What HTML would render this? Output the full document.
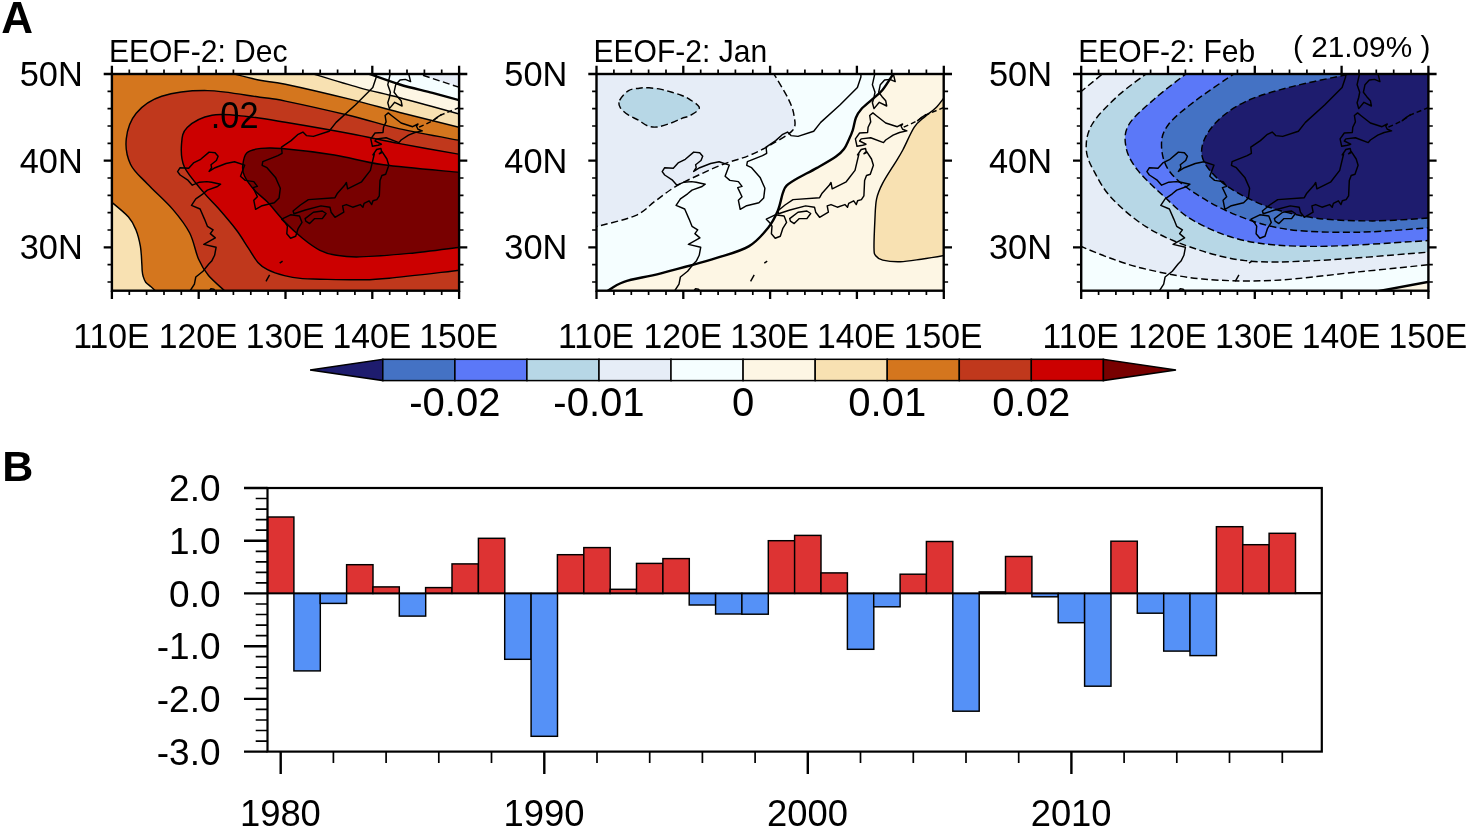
<!DOCTYPE html><html><head><meta charset="utf-8"><style>html,body{margin:0;padding:0;background:#fff;width:1468px;height:829px;overflow:hidden}svg{display:block;will-change:transform}text{font-family:"Liberation Sans", sans-serif;fill:#000}</style></head><body>
<svg width="1468" height="829" viewBox="0 0 1468 829">
<defs>
<clipPath id="cp0"><rect x="111.9" y="74" width="347.2" height="216.7"/></clipPath>
<clipPath id="cp1"><rect x="596.5" y="74" width="347.2" height="216.7"/></clipPath>
<clipPath id="cp2"><rect x="1081.2" y="74" width="347.2" height="216.7"/></clipPath>
</defs>
<rect width="1468" height="829" fill="#fff"/>
<text x="1.2" y="32.6" font-size="44" font-weight="bold">A</text>
<g clip-path="url(#cp0)">
<rect x="111.9" y="74" width="347.2" height="216.7" fill="#d4761e"/><path d="M226.6 72.2 C232.2 73.5 250.2 78.3 260 80.3 C269.8 82.3 270.3 81 285.4 84.2 C300.5 87.4 331.7 94.7 350.8 99.4 C369.9 104.1 381.6 107.8 399.8 112.5 C418 117.2 450 125 460 127.5 L460 72Z" fill="#f8e1b2"/><path d="M307 72 C315.7 74.6 343.5 83.3 359 87.6 C374.5 91.9 383 93.3 399.8 97.8 C416.6 102.2 450 111.5 460 114.3 L460 72Z" fill="#fdf6e4"/><path d="M364 72 C370 74.1 388.4 81 399.8 84.5 C411.2 88 422.5 90.2 432.5 92.9 C442.5 95.6 455.4 99.2 460 100.4 L460 72Z" fill="#f5feff"/><path d="M413 72 L460 87.6 L460 72Z" fill="#e6edf7"/><path d="M110 200.8 C113.1 203.5 124.2 212.1 128.5 217 C132.8 221.9 134 225.1 136 230 C138 234.9 139.4 240.8 140.4 246.4 C141.4 252 141.5 259.3 141.8 263.4 C142.1 267.5 142 268.8 142.2 271 C142.4 273.2 142.6 274.6 143.2 276.5 C143.8 278.4 144.4 280.5 145.7 282.2 C147 283.9 149.2 285.2 151 286.8 C152.8 288.4 155.6 291.1 156.5 292 L110 292Z" fill="#f8e1b2"/><path d="M460 140.5 C450 138.6 418 133 399.8 128.9 C381.6 124.8 369.9 120.4 350.8 115.8 C331.7 111.2 300.5 104.2 285.4 101.1 C270.3 98 273 99 260 97.2 C247 95.5 223.8 90.8 207.4 90.6 C191 90.4 173.6 92.4 161.7 96.2 C149.8 100 142.1 106.1 136.2 113.2 C130.3 120.3 127.2 130.2 126.3 138.7 C125.3 147.2 127 156.6 130.5 164.2 C134 171.8 140.4 176.4 147.5 184 C154.6 191.6 166 201.4 173 209.6 C180 217.8 185.4 224.8 189.7 233 C193.9 241.2 195.4 251.9 198.5 259 C201.6 266.1 203.9 270 208.5 275.5 C213.1 281 223.1 289.2 226 292 L460 292Z" fill="#c0381c"/><path d="M460 154.4 C450 152.6 418 147 399.8 143.6 C381.6 140.2 369.9 137.4 350.8 133.8 C331.7 130.2 302.8 125.2 285.4 122.3 C268 119.4 258.9 117.7 246.7 116.5 C234.5 115.3 221.9 113.4 212 115.2 C202.1 117 192.3 122.5 187.2 127.4 C182.1 132.3 182 137.8 181.5 144.4 C181 151 180.7 159 184.4 167 C188.1 175 198 185.6 203.6 192.4 C209.2 199.2 212.7 201.9 218.1 208.1 C223.5 214.3 231.2 223.2 236.2 229.8 C241.2 236.4 244.6 242.5 248.2 247.9 C251.8 253.3 254.7 258.8 257.9 262.4 C261.1 266 263.1 267.4 267.5 269.6 C271.9 271.8 278.6 274.1 284.4 275.6 C290.2 277.1 296.6 278 302.5 278.6 C308.4 279.2 310.4 279 320 279.2 C329.6 279.4 348.5 280 360 279.8 C371.5 279.6 372.5 279.8 389.2 278.2 C405.9 276.6 448.2 271.5 460 270.2Z" fill="#cc0000"/><path d="M460 172.4 C447.2 171.1 404.4 167.7 383.5 164.8 C362.6 161.9 351.3 157.7 334.4 155 C317.5 152.3 294.4 149.6 282.1 148.5 C269.9 147.4 266.8 147.7 260.9 148.4 C255 149.1 249.7 150 246.7 152.9 C243.7 155.8 243.1 162.2 242.7 166 C242.3 169.8 242.6 172 244.5 176 C246.4 180 250.5 185.7 254.3 190 C258.1 194.3 262.5 196.9 267.5 202.1 C272.5 207.3 278.6 215.4 284.4 221.4 C290.2 227.4 296.6 233.4 302.5 238.2 C308.4 243 314.6 247.5 320 250.3 C325.4 253.1 328.4 253.9 335 255 C341.6 256.1 346.9 257.2 359.3 256.9 C371.7 256.6 392.3 255 409.1 253.4 C425.9 251.8 451.5 248.2 460 247.2Z" fill="#780000"/>
<g transform="translate(111.9 74)"><g fill="none" stroke="#000" stroke-width="1.45" stroke-linejoin="round"><polyline points="78.1,217 82.5,210.2 83.9,203 91.1,197.2 96.9,190 99.8,187.1 102.7,181.3 104.2,173.3 91.9,170.4 103.4,163.9 98.4,159.6 101.2,155.9 95.5,152.3 92.6,145.1 88.2,135 79.6,131.3 83.9,124.8 91.1,119.8 95.5,116.1 105.6,112.5 108.7,110.2 99.7,108.2 94.9,107.6 87.6,108.2 80.4,111.2 75.6,105.8 68.2,101 65.7,97.6 68.2,93.7 76.8,94.3 81.6,88.9 88.8,85.3 97.2,78.1 103.2,78.7 106.2,82.3 104.5,86.5 99.1,90.7 99.7,93.7 97.2,97.4 103.2,93.7 114.1,89.5 122.6,87.7 132.8,91.1 128.6,102.2 133.4,106.4 141.9,107.6 145.5,112.4 141.2,113.6 145.5,122.7 141.9,126.3 143.7,135.3 150.2,131.7 162.4,128.7 167.2,123.9 168.4,114.2 163.6,103.4 155.1,93.7 150.2,91.3 150.9,87.7 166,81.7 170.2,79.3 169.6,73.2 179.2,66.6 185.7,60.7 191,58.1 194.5,61.6 201.5,62.4 217.2,57.2 224.2,48.4 243.4,31 260.9,13.5 264.4,3 264.4,-1"/><polyline points="278.5,-1 275.9,10.7 278.5,18.2 277.5,23.5 275.9,28.8 277.5,34.6 282.8,28.3 290.2,32 289.2,26.7 285.4,22.4 282.2,18.2 283.8,10.7 288.1,6 293.4,5.4 298.7,7.6 296.6,-1"/><polygon points="276.4,38.9 273.2,41.5 274.2,47.9 271.6,53.2 271.1,58.5 263.1,59 258.9,64.9 260.5,72.3 266.2,71.3 269.5,70.2 263.1,67 264.7,64.9 274.2,63.8 287,68.6 289.2,66 296.6,61.2 303,58.5 310.4,56.9 306.1,55.3 304.6,52.2 306.1,50 300.8,52.7 289.2,49 279.6,41.5"/><polygon points="261,80.8 264.7,75.5 269,74.5 270,78.7 267.4,79.8 270,77.4 275,85 276.9,91.3 273.8,100.2 270,101.5 268.1,106.6 267.4,121.8 264.9,125.6 261.1,126.8 259.8,130.6 257.2,126.8 252.2,129.4 251,133.2 248.4,130.6 240.8,133.2 234.5,130.6 230.7,131.9 231.9,138.2 223.1,143.3 219.2,138.2 218,133.2 209.1,131.9 193.5,136 182,139.8 181.2,137 188.5,131 196.5,125.6 223.1,123.7 225.6,119.2 232.5,111.6 234.5,108.5 235.7,114.8 249.7,107.8 258.5,96.4 262.4,80"/><polygon points="169.8,145.2 178.7,140.8 187.6,142 190.1,148.4 186.2,154.7 183.8,162.3 178.7,164.2 174.9,159.8 175.5,152.2 173,148.4"/><polygon points="193.2,144.6 201.5,138.2 210.4,137 214.2,139.5 210.4,144.6 202.8,144.6 197.7,149.6 193.9,147.1"/><polyline points="167.8,189.2 170.7,187.1"/><polyline points="157.7,200.8 154.1,207.3"/><polyline points="97,217.5 99,214.8 102,215.2 103.5,217.5"/><polygon points="321,46.8 325.5,43 329.5,40.5 324.5,43.8"/><polyline stroke-dasharray="5 3" points="307.2,53.2 320.5,47 329.5,40.8 347.5,33.5"/></g></g>
<g fill="none" stroke="#000" stroke-width="1.45"><path d="M226.6 72.2 C232.2 73.5 250.2 78.3 260 80.3 C269.8 82.3 270.3 81 285.4 84.2 C300.5 87.4 331.7 94.7 350.8 99.4 C369.9 104.1 381.6 107.8 399.8 112.5 C418 117.2 450 125 460 127.5"/><path d="M307 72 C315.7 74.6 343.5 83.3 359 87.6 C374.5 91.9 383 93.3 399.8 97.8 C416.6 102.2 450 111.5 460 114.3"/><path d="M110 200.8 C113.1 203.5 124.2 212.1 128.5 217 C132.8 221.9 134 225.1 136 230 C138 234.9 139.4 240.8 140.4 246.4 C141.4 252 141.5 259.3 141.8 263.4 C142.1 267.5 142 268.8 142.2 271 C142.4 273.2 142.6 274.6 143.2 276.5 C143.8 278.4 144.4 280.5 145.7 282.2 C147 283.9 149.2 285.2 151 286.8 C152.8 288.4 155.6 291.1 156.5 292"/><path d="M460 140.5 C450 138.6 418 133 399.8 128.9 C381.6 124.8 369.9 120.4 350.8 115.8 C331.7 111.2 300.5 104.2 285.4 101.1 C270.3 98 273 99 260 97.2 C247 95.5 223.8 90.8 207.4 90.6 C191 90.4 173.6 92.4 161.7 96.2 C149.8 100 142.1 106.1 136.2 113.2 C130.3 120.3 127.2 130.2 126.3 138.7 C125.3 147.2 127 156.6 130.5 164.2 C134 171.8 140.4 176.4 147.5 184 C154.6 191.6 166 201.4 173 209.6 C180 217.8 185.4 224.8 189.7 233 C193.9 241.2 195.4 251.9 198.5 259 C201.6 266.1 203.9 270 208.5 275.5 C213.1 281 223.1 289.2 226 292"/><path d="M460 154.4 C450 152.6 418 147 399.8 143.6 C381.6 140.2 369.9 137.4 350.8 133.8 C331.7 130.2 302.8 125.2 285.4 122.3 C268 119.4 258.9 117.7 246.7 116.5 C234.5 115.3 221.9 113.4 212 115.2 C202.1 117 192.3 122.5 187.2 127.4 C182.1 132.3 182 137.8 181.5 144.4 C181 151 180.7 159 184.4 167 C188.1 175 198 185.6 203.6 192.4 C209.2 199.2 212.7 201.9 218.1 208.1 C223.5 214.3 231.2 223.2 236.2 229.8 C241.2 236.4 244.6 242.5 248.2 247.9 C251.8 253.3 254.7 258.8 257.9 262.4 C261.1 266 263.1 267.4 267.5 269.6 C271.9 271.8 278.6 274.1 284.4 275.6 C290.2 277.1 296.6 278 302.5 278.6 C308.4 279.2 310.4 279 320 279.2 C329.6 279.4 348.5 280 360 279.8 C371.5 279.6 372.5 279.8 389.2 278.2 C405.9 276.6 448.2 271.5 460 270.2"/><path d="M460 172.4 C447.2 171.1 404.4 167.7 383.5 164.8 C362.6 161.9 351.3 157.7 334.4 155 C317.5 152.3 294.4 149.6 282.1 148.5 C269.9 147.4 266.8 147.7 260.9 148.4 C255 149.1 249.7 150 246.7 152.9 C243.7 155.8 243.1 162.2 242.7 166 C242.3 169.8 242.6 172 244.5 176 C246.4 180 250.5 185.7 254.3 190 C258.1 194.3 262.5 196.9 267.5 202.1 C272.5 207.3 278.6 215.4 284.4 221.4 C290.2 227.4 296.6 233.4 302.5 238.2 C308.4 243 314.6 247.5 320 250.3 C325.4 253.1 328.4 253.9 335 255 C341.6 256.1 346.9 257.2 359.3 256.9 C371.7 256.6 392.3 255 409.1 253.4 C425.9 251.8 451.5 248.2 460 247.2"/><path d="M364 72 C370 74.1 388.4 81 399.8 84.5 C411.2 88 422.5 90.2 432.5 92.9 C442.5 95.6 455.4 99.2 460 100.4" stroke-width="2.4"/><path d="M413 72 L460 87.6" stroke-dasharray="7 3.5"/></g>
</g>
<rect x="111.9" y="74" width="347.2" height="216.7" fill="none" stroke="#000" stroke-width="2.4"/><path d="M111.9 74 V65.8 M111.9 290.7 V298.9 M198.7 74 V65.8 M198.7 290.7 V298.9 M285.5 74 V65.8 M285.5 290.7 V298.9 M372.3 74 V65.8 M372.3 290.7 V298.9 M459.1 74 V65.8 M459.1 290.7 V298.9 M111.9 74 H103.7 M459.1 74 H467.3 M111.9 160.7 H103.7 M459.1 160.7 H467.3 M111.9 247.4 H103.7 M459.1 247.4 H467.3 " stroke="#000" stroke-width="2.3" fill="none"/><path d="M129.3 74 V69.6 M129.3 290.7 V295.1 M146.6 74 V69.6 M146.6 290.7 V295.1 M164 74 V69.6 M164 290.7 V295.1 M181.3 74 V69.6 M181.3 290.7 V295.1 M216.1 74 V69.6 M216.1 290.7 V295.1 M233.4 74 V69.6 M233.4 290.7 V295.1 M250.8 74 V69.6 M250.8 290.7 V295.1 M268.1 74 V69.6 M268.1 290.7 V295.1 M302.9 74 V69.6 M302.9 290.7 V295.1 M320.2 74 V69.6 M320.2 290.7 V295.1 M337.6 74 V69.6 M337.6 290.7 V295.1 M354.9 74 V69.6 M354.9 290.7 V295.1 M389.7 74 V69.6 M389.7 290.7 V295.1 M407 74 V69.6 M407 290.7 V295.1 M424.4 74 V69.6 M424.4 290.7 V295.1 M441.7 74 V69.6 M441.7 290.7 V295.1 M111.9 91.3 H107.5 M459.1 91.3 H463.5 M111.9 108.7 H107.5 M459.1 108.7 H463.5 M111.9 126 H107.5 M459.1 126 H463.5 M111.9 143.3 H107.5 M459.1 143.3 H463.5 M111.9 178 H107.5 M459.1 178 H463.5 M111.9 195.4 H107.5 M459.1 195.4 H463.5 M111.9 212.7 H107.5 M459.1 212.7 H463.5 M111.9 230 H107.5 M459.1 230 H463.5 M111.9 264.7 H107.5 M459.1 264.7 H463.5 M111.9 282 H107.5 M459.1 282 H463.5 " stroke="#000" stroke-width="1.7" fill="none"/><text transform="translate(82.7 85.8) scale(0.968 1)" font-size="35.5" text-anchor="end">50N</text><text transform="translate(82.7 172.5) scale(0.968 1)" font-size="35.5" text-anchor="end">40N</text><text transform="translate(82.7 259.2) scale(0.968 1)" font-size="35.5" text-anchor="end">30N</text><text transform="translate(111.4 347.7) scale(0.947 1)" font-size="35.6" text-anchor="middle">110E</text><text transform="translate(198.2 347.7) scale(0.947 1)" font-size="35.6" text-anchor="middle">120E</text><text transform="translate(285 347.7) scale(0.947 1)" font-size="35.6" text-anchor="middle">130E</text><text transform="translate(371.8 347.7) scale(0.947 1)" font-size="35.6" text-anchor="middle">140E</text><text transform="translate(458.6 347.7) scale(0.947 1)" font-size="35.6" text-anchor="middle">150E</text>
<g clip-path="url(#cp1)">
<rect x="596.5" y="74" width="347.2" height="216.7" fill="#f5feff"/><path d="M772.8 72 C775.4 76.5 784.8 91.7 788.4 99 C792 106.3 793.4 110.8 794.1 116 C794.8 121.2 796.5 125.5 792.7 130.2 C788.9 134.9 778.7 140.2 771.4 144.4 C764.1 148.7 756.7 152.4 748.7 155.7 C740.7 159 731.7 160.9 723.2 164.2 C714.7 167.5 705.7 171.7 697.7 175.5 C689.7 179.3 682.1 182.6 675 186.9 C667.9 191.2 661.8 196.3 655.2 201.1 C648.6 205.9 645.4 211.3 635.4 215.6 C625.4 219.9 601.7 225.1 595 227 L595 72Z" fill="#e6edf7"/><path d="M619.6 100.4 C621 97.5 625.3 92.6 628.6 90.6 C631.9 88.6 635.8 88.7 639.2 88.2 C642.6 87.7 645.4 87.6 649.1 87.8 C652.8 88 657.5 88.7 661.3 89.4 C665.1 90.2 668.6 91.3 672 92.3 C675.4 93.3 678.8 94.3 681.8 95.5 C684.8 96.7 687.1 97.5 690 99.6 C692.9 101.6 699.2 105.2 699.3 107.8 C699.4 110.4 693.7 113.4 690.8 115.2 C687.9 117 685.2 117.1 681.8 118.4 C678.4 119.8 674.4 121.9 670.3 123.3 C666.2 124.7 661 126.6 657.2 127 C653.4 127.4 650.5 127 647.4 125.8 C644.3 124.6 641.5 121.9 638.4 120.1 C635.3 118.3 631.6 117.2 628.6 115.2 C625.6 113.2 621.9 110.3 620.4 107.8 C618.9 105.3 618.2 103.3 619.6 100.4Z" fill="#b7d7e6"/><path d="M606 292 C609 290.3 614.9 284.9 624 281.8 C633.1 278.7 645.3 277.3 660.9 273.3 C676.5 269.3 702.9 262.2 717.5 257.7 C732.1 253.2 740.3 251.3 748.7 246.4 C757.1 241.5 763.2 233.9 768 228 C772.8 222.1 775.2 216.8 777.7 211 C780.2 205.2 781.3 197.4 782.8 193.2 C784.3 189 784.1 188.1 786.6 185.6 C789.1 183.1 792.9 180.9 798 178 C803.1 175.1 810.7 171.5 817 167.9 C823.3 164.3 831.5 159.7 836 156.5 C840.5 153.3 841.9 151.8 844 149 C846.1 146.2 847.2 143.1 848.7 140 C850.2 136.9 851.5 134.1 852.7 130.4 C853.9 126.7 854.5 121.2 855.9 117.7 C857.3 114.2 858.5 112.2 861.2 109.2 C863.9 106.2 868.4 102.8 871.9 99.6 C875.4 96.4 878.7 94.6 882.5 90 C886.3 85.4 892.5 75 894.5 72 L945 72 L945 292Z" fill="#fdf6e4"/><path d="M945 96.5 C943.4 98.4 938.9 104.8 935.6 108.1 C932.3 111.4 928.5 113.4 925 116.6 C921.5 119.8 918 121.6 914.3 127.2 C910.6 132.8 906 144 902.8 150 C899.6 156 898.4 157.6 895 163.1 C891.6 168.6 885.8 177.2 882.7 183.2 C879.6 189.2 877.9 192.8 876.6 198.9 C875.3 205 875.3 211.7 874.9 219.9 C874.5 228.1 873.9 241.9 874 247.9 C874.1 253.9 874.2 253.7 875.7 255.7 C877.2 257.7 878.6 259.1 882.7 260.1 C886.8 261.1 893.8 262 900.2 261.8 C906.6 261.6 913.7 260.3 921.2 259.2 C928.7 258.1 941 256 945 255.3Z" fill="#f8e1b2"/>
<g transform="translate(596.5 74)"><g fill="none" stroke="#000" stroke-width="1.45" stroke-linejoin="round"><polyline points="78.1,217 82.5,210.2 83.9,203 91.1,197.2 96.9,190 99.8,187.1 102.7,181.3 104.2,173.3 91.9,170.4 103.4,163.9 98.4,159.6 101.2,155.9 95.5,152.3 92.6,145.1 88.2,135 79.6,131.3 83.9,124.8 91.1,119.8 95.5,116.1 105.6,112.5 108.7,110.2 99.7,108.2 94.9,107.6 87.6,108.2 80.4,111.2 75.6,105.8 68.2,101 65.7,97.6 68.2,93.7 76.8,94.3 81.6,88.9 88.8,85.3 97.2,78.1 103.2,78.7 106.2,82.3 104.5,86.5 99.1,90.7 99.7,93.7 97.2,97.4 103.2,93.7 114.1,89.5 122.6,87.7 132.8,91.1 128.6,102.2 133.4,106.4 141.9,107.6 145.5,112.4 141.2,113.6 145.5,122.7 141.9,126.3 143.7,135.3 150.2,131.7 162.4,128.7 167.2,123.9 168.4,114.2 163.6,103.4 155.1,93.7 150.2,91.3 150.9,87.7 166,81.7 170.2,79.3 169.6,73.2 179.2,66.6 185.7,60.7 191,58.1 194.5,61.6 201.5,62.4 217.2,57.2 224.2,48.4 243.4,31 260.9,13.5 264.4,3 264.4,-1"/><polyline points="278.5,-1 275.9,10.7 278.5,18.2 277.5,23.5 275.9,28.8 277.5,34.6 282.8,28.3 290.2,32 289.2,26.7 285.4,22.4 282.2,18.2 283.8,10.7 288.1,6 293.4,5.4 298.7,7.6 296.6,-1"/><polygon points="276.4,38.9 273.2,41.5 274.2,47.9 271.6,53.2 271.1,58.5 263.1,59 258.9,64.9 260.5,72.3 266.2,71.3 269.5,70.2 263.1,67 264.7,64.9 274.2,63.8 287,68.6 289.2,66 296.6,61.2 303,58.5 310.4,56.9 306.1,55.3 304.6,52.2 306.1,50 300.8,52.7 289.2,49 279.6,41.5"/><polygon points="261,80.8 264.7,75.5 269,74.5 270,78.7 267.4,79.8 270,77.4 275,85 276.9,91.3 273.8,100.2 270,101.5 268.1,106.6 267.4,121.8 264.9,125.6 261.1,126.8 259.8,130.6 257.2,126.8 252.2,129.4 251,133.2 248.4,130.6 240.8,133.2 234.5,130.6 230.7,131.9 231.9,138.2 223.1,143.3 219.2,138.2 218,133.2 209.1,131.9 193.5,136 182,139.8 181.2,137 188.5,131 196.5,125.6 223.1,123.7 225.6,119.2 232.5,111.6 234.5,108.5 235.7,114.8 249.7,107.8 258.5,96.4 262.4,80"/><polygon points="169.8,145.2 178.7,140.8 187.6,142 190.1,148.4 186.2,154.7 183.8,162.3 178.7,164.2 174.9,159.8 175.5,152.2 173,148.4"/><polygon points="193.2,144.6 201.5,138.2 210.4,137 214.2,139.5 210.4,144.6 202.8,144.6 197.7,149.6 193.9,147.1"/><polyline points="167.8,189.2 170.7,187.1"/><polyline points="157.7,200.8 154.1,207.3"/><polyline points="97,217.5 99,214.8 102,215.2 103.5,217.5"/><polygon points="321,46.8 325.5,43 329.5,40.5 324.5,43.8"/><polyline stroke-dasharray="5 3" points="307.2,53.2 320.5,47 329.5,40.8 347.5,33.5"/></g></g>
<g fill="none" stroke="#000" stroke-width="1.45"><path d="M772.8 72 C775.4 76.5 784.8 91.7 788.4 99 C792 106.3 793.4 110.8 794.1 116 C794.8 121.2 796.5 125.5 792.7 130.2 C788.9 134.9 778.7 140.2 771.4 144.4 C764.1 148.7 756.7 152.4 748.7 155.7 C740.7 159 731.7 160.9 723.2 164.2 C714.7 167.5 705.7 171.7 697.7 175.5 C689.7 179.3 682.1 182.6 675 186.9 C667.9 191.2 661.8 196.3 655.2 201.1 C648.6 205.9 645.4 211.3 635.4 215.6 C625.4 219.9 601.7 225.1 595 227" stroke-dasharray="7 3.5"/><path d="M619.6 100.4 C621 97.5 625.3 92.6 628.6 90.6 C631.9 88.6 635.8 88.7 639.2 88.2 C642.6 87.7 645.4 87.6 649.1 87.8 C652.8 88 657.5 88.7 661.3 89.4 C665.1 90.2 668.6 91.3 672 92.3 C675.4 93.3 678.8 94.3 681.8 95.5 C684.8 96.7 687.1 97.5 690 99.6 C692.9 101.6 699.2 105.2 699.3 107.8 C699.4 110.4 693.7 113.4 690.8 115.2 C687.9 117 685.2 117.1 681.8 118.4 C678.4 119.8 674.4 121.9 670.3 123.3 C666.2 124.7 661 126.6 657.2 127 C653.4 127.4 650.5 127 647.4 125.8 C644.3 124.6 641.5 121.9 638.4 120.1 C635.3 118.3 631.6 117.2 628.6 115.2 C625.6 113.2 621.9 110.3 620.4 107.8 C618.9 105.3 618.2 103.3 619.6 100.4Z" stroke-dasharray="7 3.5"/><path d="M945 96.5 C943.4 98.4 938.9 104.8 935.6 108.1 C932.3 111.4 928.5 113.4 925 116.6 C921.5 119.8 918 121.6 914.3 127.2 C910.6 132.8 906 144 902.8 150 C899.6 156 898.4 157.6 895 163.1 C891.6 168.6 885.8 177.2 882.7 183.2 C879.6 189.2 877.9 192.8 876.6 198.9 C875.3 205 875.3 211.7 874.9 219.9 C874.5 228.1 873.9 241.9 874 247.9 C874.1 253.9 874.2 253.7 875.7 255.7 C877.2 257.7 878.6 259.1 882.7 260.1 C886.8 261.1 893.8 262 900.2 261.8 C906.6 261.6 913.7 260.3 921.2 259.2 C928.7 258.1 941 256 945 255.3"/><path d="M606 292 C609 290.3 614.9 284.9 624 281.8 C633.1 278.7 645.3 277.3 660.9 273.3 C676.5 269.3 702.9 262.2 717.5 257.7 C732.1 253.2 740.3 251.3 748.7 246.4 C757.1 241.5 763.2 233.9 768 228 C772.8 222.1 775.2 216.8 777.7 211 C780.2 205.2 781.3 197.4 782.8 193.2 C784.3 189 784.1 188.1 786.6 185.6 C789.1 183.1 792.9 180.9 798 178 C803.1 175.1 810.7 171.5 817 167.9 C823.3 164.3 831.5 159.7 836 156.5 C840.5 153.3 841.9 151.8 844 149 C846.1 146.2 847.2 143.1 848.7 140 C850.2 136.9 851.5 134.1 852.7 130.4 C853.9 126.7 854.5 121.2 855.9 117.7 C857.3 114.2 858.5 112.2 861.2 109.2 C863.9 106.2 868.4 102.8 871.9 99.6 C875.4 96.4 878.7 94.6 882.5 90 C886.3 85.4 892.5 75 894.5 72" stroke-width="2.4"/></g>
</g>
<rect x="596.5" y="74" width="347.2" height="216.7" fill="none" stroke="#000" stroke-width="2.4"/><path d="M596.5 74 V65.8 M596.5 290.7 V298.9 M683.3 74 V65.8 M683.3 290.7 V298.9 M770.1 74 V65.8 M770.1 290.7 V298.9 M856.9 74 V65.8 M856.9 290.7 V298.9 M943.8 74 V65.8 M943.8 290.7 V298.9 M596.5 74 H588.3 M943.8 74 H952 M596.5 160.7 H588.3 M943.8 160.7 H952 M596.5 247.4 H588.3 M943.8 247.4 H952 " stroke="#000" stroke-width="2.3" fill="none"/><path d="M613.9 74 V69.6 M613.9 290.7 V295.1 M631.3 74 V69.6 M631.3 290.7 V295.1 M648.6 74 V69.6 M648.6 290.7 V295.1 M666 74 V69.6 M666 290.7 V295.1 M700.7 74 V69.6 M700.7 290.7 V295.1 M718.1 74 V69.6 M718.1 290.7 V295.1 M735.4 74 V69.6 M735.4 290.7 V295.1 M752.8 74 V69.6 M752.8 290.7 V295.1 M787.5 74 V69.6 M787.5 290.7 V295.1 M804.9 74 V69.6 M804.9 290.7 V295.1 M822.2 74 V69.6 M822.2 290.7 V295.1 M839.6 74 V69.6 M839.6 290.7 V295.1 M874.3 74 V69.6 M874.3 290.7 V295.1 M891.7 74 V69.6 M891.7 290.7 V295.1 M909 74 V69.6 M909 290.7 V295.1 M926.4 74 V69.6 M926.4 290.7 V295.1 M596.5 91.3 H592.1 M943.8 91.3 H948.1 M596.5 108.7 H592.1 M943.8 108.7 H948.1 M596.5 126 H592.1 M943.8 126 H948.1 M596.5 143.3 H592.1 M943.8 143.3 H948.1 M596.5 178 H592.1 M943.8 178 H948.1 M596.5 195.4 H592.1 M943.8 195.4 H948.1 M596.5 212.7 H592.1 M943.8 212.7 H948.1 M596.5 230 H592.1 M943.8 230 H948.1 M596.5 264.7 H592.1 M943.8 264.7 H948.1 M596.5 282 H592.1 M943.8 282 H948.1 " stroke="#000" stroke-width="1.7" fill="none"/><text transform="translate(567.3 85.8) scale(0.968 1)" font-size="35.5" text-anchor="end">50N</text><text transform="translate(567.3 172.5) scale(0.968 1)" font-size="35.5" text-anchor="end">40N</text><text transform="translate(567.3 259.2) scale(0.968 1)" font-size="35.5" text-anchor="end">30N</text><text transform="translate(596 347.7) scale(0.947 1)" font-size="35.6" text-anchor="middle">110E</text><text transform="translate(682.8 347.7) scale(0.947 1)" font-size="35.6" text-anchor="middle">120E</text><text transform="translate(769.6 347.7) scale(0.947 1)" font-size="35.6" text-anchor="middle">130E</text><text transform="translate(856.4 347.7) scale(0.947 1)" font-size="35.6" text-anchor="middle">140E</text><text transform="translate(943.2 347.7) scale(0.947 1)" font-size="35.6" text-anchor="middle">150E</text>
<g clip-path="url(#cp2)">
<rect x="1081.2" y="74" width="347.2" height="216.7" fill="#e6edf7"/><path d="M1080 92.5 L1104.8 72 L1080 72Z" fill="#f5feff"/><path d="M1080 246 C1084.8 247.9 1098 253.8 1109 257.7 C1120 261.6 1130.3 265.6 1145.9 269.1 C1161.5 272.7 1181.3 277.1 1202.6 279 C1223.8 280.9 1247.4 281.6 1273.4 280.4 C1299.4 279.2 1332.3 274.5 1358.4 271.9 C1384.5 269.3 1418.1 265.8 1430 264.6 L1430 292 L1080 292Z" fill="#f5feff"/><path d="M1148.7 72 C1143.5 76 1127 87.5 1117.5 96.2 C1108 105 1097.2 115.5 1092 124.5 C1086.8 133.5 1085.8 142 1086.3 150 C1086.8 158 1090.5 164.7 1094.8 172.7 C1099 180.7 1103.3 189.2 1111.8 198.2 C1120.3 207.2 1133.1 218.6 1145.9 226.6 C1158.7 234.6 1171.9 240.7 1188.4 246.4 C1204.9 252.1 1223.8 258.2 1245.1 260.6 C1266.3 263 1285.1 262 1315.9 260.6 C1346.7 259.2 1411 253.4 1430 252 L1430 72Z" fill="#b7d7e6"/><path d="M1188.4 72 C1182.7 76.5 1164.3 90.2 1154.4 99 C1144.5 107.8 1133.6 116.5 1128.9 124.5 C1124.2 132.5 1124.6 139.6 1126 147.2 C1127.4 154.8 1131.2 161.9 1137.4 169.9 C1143.6 177.9 1153.5 186.9 1162.9 195.4 C1172.3 203.9 1180.3 213.4 1194 220.9 C1207.7 228.4 1224.8 236.4 1245.1 240.7 C1265.4 244.9 1285.1 246.4 1315.9 246.4 C1346.7 246.4 1411 241.5 1430 240.5 L1430 72Z" fill="#5b78f8"/><path d="M1236.6 72 C1229.5 77 1205.3 93 1194 101.8 C1182.7 110.5 1173.9 117.4 1168.5 124.5 C1163.1 131.6 1161.5 136.8 1161.5 144.4 C1161.5 152 1163.1 161.9 1168.5 169.9 C1173.9 177.9 1182.7 185.1 1194 192.6 C1205.3 200.1 1221 209.1 1236.6 215.2 C1252.2 221.3 1267.3 226.6 1287.6 229.4 C1307.9 232.2 1334.7 232.5 1358.4 232.2 C1382.1 231.9 1418.1 228.5 1430 227.8 L1430 72Z" fill="#4472c4"/><path d="M1347.1 74.5 C1337.2 76.7 1304.6 83.2 1287.6 87.7 C1270.6 92.2 1256.9 96.1 1245.1 101.8 C1233.3 107.5 1223.8 114.6 1216.7 121.7 C1209.6 128.8 1204.5 137.3 1202.6 144.4 C1200.7 151.5 1201.2 157.1 1205.4 164.2 C1209.7 171.3 1217.7 179.8 1228.1 186.9 C1238.5 194 1253.1 201.5 1267.7 206.7 C1282.3 211.9 1298.4 215.7 1315.9 218.1 C1333.4 220.5 1353.6 220.9 1372.6 220.9 C1391.6 220.9 1420.4 218.4 1430 217.9 L1430 72 L1347.1 72Z" fill="#1e1c6e"/><path d="M1374 292 L1430 281.6 L1430 292Z" fill="#fdf6e4"/>
<g transform="translate(1081.2 74)"><g fill="none" stroke="#000" stroke-width="1.45" stroke-linejoin="round"><polyline points="78.1,217 82.5,210.2 83.9,203 91.1,197.2 96.9,190 99.8,187.1 102.7,181.3 104.2,173.3 91.9,170.4 103.4,163.9 98.4,159.6 101.2,155.9 95.5,152.3 92.6,145.1 88.2,135 79.6,131.3 83.9,124.8 91.1,119.8 95.5,116.1 105.6,112.5 108.7,110.2 99.7,108.2 94.9,107.6 87.6,108.2 80.4,111.2 75.6,105.8 68.2,101 65.7,97.6 68.2,93.7 76.8,94.3 81.6,88.9 88.8,85.3 97.2,78.1 103.2,78.7 106.2,82.3 104.5,86.5 99.1,90.7 99.7,93.7 97.2,97.4 103.2,93.7 114.1,89.5 122.6,87.7 132.8,91.1 128.6,102.2 133.4,106.4 141.9,107.6 145.5,112.4 141.2,113.6 145.5,122.7 141.9,126.3 143.7,135.3 150.2,131.7 162.4,128.7 167.2,123.9 168.4,114.2 163.6,103.4 155.1,93.7 150.2,91.3 150.9,87.7 166,81.7 170.2,79.3 169.6,73.2 179.2,66.6 185.7,60.7 191,58.1 194.5,61.6 201.5,62.4 217.2,57.2 224.2,48.4 243.4,31 260.9,13.5 264.4,3 264.4,-1"/><polyline points="278.5,-1 275.9,10.7 278.5,18.2 277.5,23.5 275.9,28.8 277.5,34.6 282.8,28.3 290.2,32 289.2,26.7 285.4,22.4 282.2,18.2 283.8,10.7 288.1,6 293.4,5.4 298.7,7.6 296.6,-1"/><polygon points="276.4,38.9 273.2,41.5 274.2,47.9 271.6,53.2 271.1,58.5 263.1,59 258.9,64.9 260.5,72.3 266.2,71.3 269.5,70.2 263.1,67 264.7,64.9 274.2,63.8 287,68.6 289.2,66 296.6,61.2 303,58.5 310.4,56.9 306.1,55.3 304.6,52.2 306.1,50 300.8,52.7 289.2,49 279.6,41.5"/><polygon points="261,80.8 264.7,75.5 269,74.5 270,78.7 267.4,79.8 270,77.4 275,85 276.9,91.3 273.8,100.2 270,101.5 268.1,106.6 267.4,121.8 264.9,125.6 261.1,126.8 259.8,130.6 257.2,126.8 252.2,129.4 251,133.2 248.4,130.6 240.8,133.2 234.5,130.6 230.7,131.9 231.9,138.2 223.1,143.3 219.2,138.2 218,133.2 209.1,131.9 193.5,136 182,139.8 181.2,137 188.5,131 196.5,125.6 223.1,123.7 225.6,119.2 232.5,111.6 234.5,108.5 235.7,114.8 249.7,107.8 258.5,96.4 262.4,80"/><polygon points="169.8,145.2 178.7,140.8 187.6,142 190.1,148.4 186.2,154.7 183.8,162.3 178.7,164.2 174.9,159.8 175.5,152.2 173,148.4"/><polygon points="193.2,144.6 201.5,138.2 210.4,137 214.2,139.5 210.4,144.6 202.8,144.6 197.7,149.6 193.9,147.1"/><polyline points="167.8,189.2 170.7,187.1"/><polyline points="157.7,200.8 154.1,207.3"/><polyline points="97,217.5 99,214.8 102,215.2 103.5,217.5"/><polygon points="321,46.8 325.5,43 329.5,40.5 324.5,43.8"/><polyline stroke-dasharray="5 3" points="307.2,53.2 320.5,47 329.5,40.8 347.5,33.5"/></g></g>
<g fill="none" stroke="#000" stroke-width="1.45" stroke-dasharray="7 3.5"><path d="M1080 92.5 L1104.8 72"/><path d="M1080 246 C1084.8 247.9 1098 253.8 1109 257.7 C1120 261.6 1130.3 265.6 1145.9 269.1 C1161.5 272.7 1181.3 277.1 1202.6 279 C1223.8 280.9 1247.4 281.6 1273.4 280.4 C1299.4 279.2 1332.3 274.5 1358.4 271.9 C1384.5 269.3 1418.1 265.8 1430 264.6"/><path d="M1148.7 72 C1143.5 76 1127 87.5 1117.5 96.2 C1108 105 1097.2 115.5 1092 124.5 C1086.8 133.5 1085.8 142 1086.3 150 C1086.8 158 1090.5 164.7 1094.8 172.7 C1099 180.7 1103.3 189.2 1111.8 198.2 C1120.3 207.2 1133.1 218.6 1145.9 226.6 C1158.7 234.6 1171.9 240.7 1188.4 246.4 C1204.9 252.1 1223.8 258.2 1245.1 260.6 C1266.3 263 1285.1 262 1315.9 260.6 C1346.7 259.2 1411 253.4 1430 252"/><path d="M1188.4 72 C1182.7 76.5 1164.3 90.2 1154.4 99 C1144.5 107.8 1133.6 116.5 1128.9 124.5 C1124.2 132.5 1124.6 139.6 1126 147.2 C1127.4 154.8 1131.2 161.9 1137.4 169.9 C1143.6 177.9 1153.5 186.9 1162.9 195.4 C1172.3 203.9 1180.3 213.4 1194 220.9 C1207.7 228.4 1224.8 236.4 1245.1 240.7 C1265.4 244.9 1285.1 246.4 1315.9 246.4 C1346.7 246.4 1411 241.5 1430 240.5"/><path d="M1236.6 72 C1229.5 77 1205.3 93 1194 101.8 C1182.7 110.5 1173.9 117.4 1168.5 124.5 C1163.1 131.6 1161.5 136.8 1161.5 144.4 C1161.5 152 1163.1 161.9 1168.5 169.9 C1173.9 177.9 1182.7 185.1 1194 192.6 C1205.3 200.1 1221 209.1 1236.6 215.2 C1252.2 221.3 1267.3 226.6 1287.6 229.4 C1307.9 232.2 1334.7 232.5 1358.4 232.2 C1382.1 231.9 1418.1 228.5 1430 227.8"/><path d="M1347.1 74.5 C1337.2 76.7 1304.6 83.2 1287.6 87.7 C1270.6 92.2 1256.9 96.1 1245.1 101.8 C1233.3 107.5 1223.8 114.6 1216.7 121.7 C1209.6 128.8 1204.5 137.3 1202.6 144.4 C1200.7 151.5 1201.2 157.1 1205.4 164.2 C1209.7 171.3 1217.7 179.8 1228.1 186.9 C1238.5 194 1253.1 201.5 1267.7 206.7 C1282.3 211.9 1298.4 215.7 1315.9 218.1 C1333.4 220.5 1353.6 220.9 1372.6 220.9 C1391.6 220.9 1420.4 218.4 1430 217.9"/></g><path d="M1374 292 L1430 281.6" stroke="#000" stroke-width="2.4" fill="none"/>
</g>
<rect x="1081.2" y="74" width="347.2" height="216.7" fill="none" stroke="#000" stroke-width="2.4"/><path d="M1081.2 74 V65.8 M1081.2 290.7 V298.9 M1168 74 V65.8 M1168 290.7 V298.9 M1254.8 74 V65.8 M1254.8 290.7 V298.9 M1341.6 74 V65.8 M1341.6 290.7 V298.9 M1428.4 74 V65.8 M1428.4 290.7 V298.9 M1081.2 74 H1073 M1428.4 74 H1436.6 M1081.2 160.7 H1073 M1428.4 160.7 H1436.6 M1081.2 247.4 H1073 M1428.4 247.4 H1436.6 " stroke="#000" stroke-width="2.3" fill="none"/><path d="M1098.6 74 V69.6 M1098.6 290.7 V295.1 M1115.9 74 V69.6 M1115.9 290.7 V295.1 M1133.3 74 V69.6 M1133.3 290.7 V295.1 M1150.6 74 V69.6 M1150.6 290.7 V295.1 M1185.4 74 V69.6 M1185.4 290.7 V295.1 M1202.7 74 V69.6 M1202.7 290.7 V295.1 M1220.1 74 V69.6 M1220.1 290.7 V295.1 M1237.4 74 V69.6 M1237.4 290.7 V295.1 M1272.2 74 V69.6 M1272.2 290.7 V295.1 M1289.5 74 V69.6 M1289.5 290.7 V295.1 M1306.9 74 V69.6 M1306.9 290.7 V295.1 M1324.2 74 V69.6 M1324.2 290.7 V295.1 M1359 74 V69.6 M1359 290.7 V295.1 M1376.3 74 V69.6 M1376.3 290.7 V295.1 M1393.7 74 V69.6 M1393.7 290.7 V295.1 M1411 74 V69.6 M1411 290.7 V295.1 M1081.2 91.3 H1076.8 M1428.4 91.3 H1432.8 M1081.2 108.7 H1076.8 M1428.4 108.7 H1432.8 M1081.2 126 H1076.8 M1428.4 126 H1432.8 M1081.2 143.3 H1076.8 M1428.4 143.3 H1432.8 M1081.2 178 H1076.8 M1428.4 178 H1432.8 M1081.2 195.4 H1076.8 M1428.4 195.4 H1432.8 M1081.2 212.7 H1076.8 M1428.4 212.7 H1432.8 M1081.2 230 H1076.8 M1428.4 230 H1432.8 M1081.2 264.7 H1076.8 M1428.4 264.7 H1432.8 M1081.2 282 H1076.8 M1428.4 282 H1432.8 " stroke="#000" stroke-width="1.7" fill="none"/><text transform="translate(1052 85.8) scale(0.968 1)" font-size="35.5" text-anchor="end">50N</text><text transform="translate(1052 172.5) scale(0.968 1)" font-size="35.5" text-anchor="end">40N</text><text transform="translate(1052 259.2) scale(0.968 1)" font-size="35.5" text-anchor="end">30N</text><text transform="translate(1080.7 347.7) scale(0.947 1)" font-size="35.6" text-anchor="middle">110E</text><text transform="translate(1167.5 347.7) scale(0.947 1)" font-size="35.6" text-anchor="middle">120E</text><text transform="translate(1254.3 347.7) scale(0.947 1)" font-size="35.6" text-anchor="middle">130E</text><text transform="translate(1341.1 347.7) scale(0.947 1)" font-size="35.6" text-anchor="middle">140E</text><text transform="translate(1427.9 347.7) scale(0.947 1)" font-size="35.6" text-anchor="middle">150E</text>
<text transform="translate(108.9 62.3) scale(0.970 1)" font-size="31">EEOF-2: Dec</text>
<text transform="translate(593.5 62.3) scale(0.970 1)" font-size="31">EEOF-2: Jan</text>
<text transform="translate(1078.2 62.3) scale(0.970 1)" font-size="31">EEOF-2: Feb</text>
<text transform="translate(1430.3 57.1) scale(0.980 1)" font-size="30.4" text-anchor="end">( 21.09% )</text>
<text transform="translate(210.8 127.7) scale(0.930 1)" font-size="37">.02</text>
<g stroke="#000" stroke-width="1.5">
<polygon points="310.1,370 382.8,359.3 382.8,380.6" fill="#1e1c6e"/>
<rect x="382.8" y="359.3" width="72.1" height="21.3" fill="#4472c4"/>
<rect x="454.9" y="359.3" width="72.1" height="21.3" fill="#5b78f8"/>
<rect x="526.9" y="359.3" width="72.1" height="21.3" fill="#b7d7e6"/>
<rect x="599" y="359.3" width="72.1" height="21.3" fill="#e6edf7"/>
<rect x="671" y="359.3" width="72.1" height="21.3" fill="#f5feff"/>
<rect x="743.1" y="359.3" width="72.1" height="21.3" fill="#fdf6e4"/>
<rect x="815.2" y="359.3" width="72.1" height="21.3" fill="#f8e1b2"/>
<rect x="887.2" y="359.3" width="72.1" height="21.3" fill="#d4761e"/>
<rect x="959.3" y="359.3" width="72.1" height="21.3" fill="#c0381c"/>
<rect x="1031.3" y="359.3" width="72.1" height="21.3" fill="#cc0000"/>
<polygon points="1176,370 1103.4,359.3 1103.4,380.6" fill="#780000"/>
</g>
<text transform="translate(454.9 416.4) scale(0.970 1)" font-size="41.3" text-anchor="middle">-0.02</text>
<text transform="translate(599 416.4) scale(0.970 1)" font-size="41.3" text-anchor="middle">-0.01</text>
<text transform="translate(743.1 416.4) scale(0.970 1)" font-size="41.3" text-anchor="middle">0</text>
<text transform="translate(887.2 416.4) scale(0.970 1)" font-size="41.3" text-anchor="middle">0.01</text>
<text transform="translate(1031.3 416.4) scale(0.970 1)" font-size="41.3" text-anchor="middle">0.02</text>
<text x="2.3" y="480.9" font-size="43" font-weight="bold">B</text>
<g stroke="#000" stroke-width="1.45">
<rect x="267.5" y="517" width="26.4" height="76.4" fill="#dd3333"/>
<rect x="293.9" y="593.4" width="26.4" height="77.5" fill="#5591f7"/>
<rect x="320.2" y="593.4" width="26.4" height="10" fill="#5591f7"/>
<rect x="346.6" y="564.7" width="26.4" height="28.8" fill="#dd3333"/>
<rect x="372.9" y="586.9" width="26.4" height="6.6" fill="#dd3333"/>
<rect x="399.3" y="593.4" width="26.4" height="22.7" fill="#5591f7"/>
<rect x="425.6" y="587.6" width="26.4" height="5.8" fill="#dd3333"/>
<rect x="452" y="563.9" width="26.4" height="29.5" fill="#dd3333"/>
<rect x="478.4" y="538.3" width="26.4" height="55.1" fill="#dd3333"/>
<rect x="504.7" y="593.4" width="26.4" height="65.9" fill="#5591f7"/>
<rect x="531.1" y="593.4" width="26.4" height="142.9" fill="#5591f7"/>
<rect x="557.4" y="554.7" width="26.4" height="38.7" fill="#dd3333"/>
<rect x="583.8" y="547.6" width="26.4" height="45.9" fill="#dd3333"/>
<rect x="610.1" y="589.3" width="26.4" height="4.1" fill="#dd3333"/>
<rect x="636.5" y="563.4" width="26.4" height="30.1" fill="#dd3333"/>
<rect x="662.9" y="558.6" width="26.4" height="34.8" fill="#dd3333"/>
<rect x="689.2" y="593.4" width="26.4" height="11.6" fill="#5591f7"/>
<rect x="715.6" y="593.4" width="26.4" height="20.6" fill="#5591f7"/>
<rect x="741.9" y="593.4" width="26.4" height="20.8" fill="#5591f7"/>
<rect x="768.3" y="540.7" width="26.4" height="52.7" fill="#dd3333"/>
<rect x="794.6" y="535.4" width="26.4" height="58" fill="#dd3333"/>
<rect x="821" y="572.9" width="26.4" height="20.6" fill="#dd3333"/>
<rect x="847.4" y="593.4" width="26.4" height="55.9" fill="#5591f7"/>
<rect x="873.7" y="593.4" width="26.4" height="13.4" fill="#5591f7"/>
<rect x="900.1" y="574.2" width="26.4" height="19.2" fill="#dd3333"/>
<rect x="926.4" y="541.5" width="26.4" height="51.9" fill="#dd3333"/>
<rect x="952.8" y="593.4" width="26.4" height="117.8" fill="#5591f7"/>
<rect x="979.2" y="591.9" width="26.4" height="1.6" fill="#dd3333"/>
<rect x="1005.5" y="556.5" width="26.4" height="36.9" fill="#dd3333"/>
<rect x="1031.9" y="593.4" width="26.4" height="3.4" fill="#5591f7"/>
<rect x="1058.2" y="593.4" width="26.4" height="29.3" fill="#5591f7"/>
<rect x="1084.6" y="593.4" width="26.4" height="92.8" fill="#5591f7"/>
<rect x="1110.9" y="541.2" width="26.4" height="52.2" fill="#dd3333"/>
<rect x="1137.3" y="593.4" width="26.4" height="19.8" fill="#5591f7"/>
<rect x="1163.7" y="593.4" width="26.4" height="57.7" fill="#5591f7"/>
<rect x="1190" y="593.4" width="26.4" height="62.2" fill="#5591f7"/>
<rect x="1216.4" y="526.7" width="26.4" height="66.7" fill="#dd3333"/>
<rect x="1242.7" y="544.7" width="26.4" height="48.8" fill="#dd3333"/>
<rect x="1269.1" y="533.3" width="26.4" height="60.1" fill="#dd3333"/>
<rect x="1295.4" y="592.8" width="26.4" height="0.6" fill="#dd3333"/>
</g>
<path d="M267.5 593.4 H1321.8" stroke="#000" stroke-width="1.8"/>
<rect x="267.5" y="488" width="1054.3" height="263.6" fill="none" stroke="#000" stroke-width="2.2"/>
<path d="M267.5 488 H244 M267.5 540.7 H244 M267.5 593.4 H244 M267.5 646.2 H244 M267.5 698.9 H244 M267.5 751.6 H244 M280.7 751.6 V774.1 M544.3 751.6 V774.1 M807.8 751.6 V774.1 M1071.4 751.6 V774.1 " stroke="#000" stroke-width="2.4" fill="none"/>
<path d="M267.5 498.5 H255.7 M267.5 509.1 H255.7 M267.5 519.6 H255.7 M267.5 530.2 H255.7 M267.5 551.3 H255.7 M267.5 561.8 H255.7 M267.5 572.4 H255.7 M267.5 582.9 H255.7 M267.5 604 H255.7 M267.5 614.5 H255.7 M267.5 625.1 H255.7 M267.5 635.6 H255.7 M267.5 656.7 H255.7 M267.5 667.2 H255.7 M267.5 677.8 H255.7 M267.5 688.3 H255.7 M267.5 709.4 H255.7 M267.5 720 H255.7 M267.5 730.5 H255.7 M267.5 741.1 H255.7 M333.4 751.6 V762.9 M386.1 751.6 V762.9 M438.8 751.6 V762.9 M491.5 751.6 V762.9 M597 751.6 V762.9 M649.7 751.6 V762.9 M702.4 751.6 V762.9 M755.1 751.6 V762.9 M860.5 751.6 V762.9 M913.3 751.6 V762.9 M966 751.6 V762.9 M1018.7 751.6 V762.9 M1124.1 751.6 V762.9 M1176.8 751.6 V762.9 M1229.5 751.6 V762.9 M1282.3 751.6 V762.9 " stroke="#000" stroke-width="1.7" fill="none"/>
<text x="220.5" y="501.1" font-size="37" text-anchor="end">2.0</text>
<text x="220.5" y="553.8" font-size="37" text-anchor="end">1.0</text>
<text x="220.5" y="606.5" font-size="37" text-anchor="end">0.0</text>
<text x="220.5" y="659.3" font-size="37" text-anchor="end">-1.0</text>
<text x="220.5" y="712" font-size="37" text-anchor="end">-2.0</text>
<text x="220.5" y="764.7" font-size="37" text-anchor="end">-3.0</text>
<text transform="translate(280.4 825.9) scale(0.967 1)" font-size="37.6" text-anchor="middle">1980</text>
<text transform="translate(544 825.9) scale(0.967 1)" font-size="37.6" text-anchor="middle">1990</text>
<text transform="translate(807.5 825.9) scale(0.967 1)" font-size="37.6" text-anchor="middle">2000</text>
<text transform="translate(1071.1 825.9) scale(0.967 1)" font-size="37.6" text-anchor="middle">2010</text>
</svg></body></html>
